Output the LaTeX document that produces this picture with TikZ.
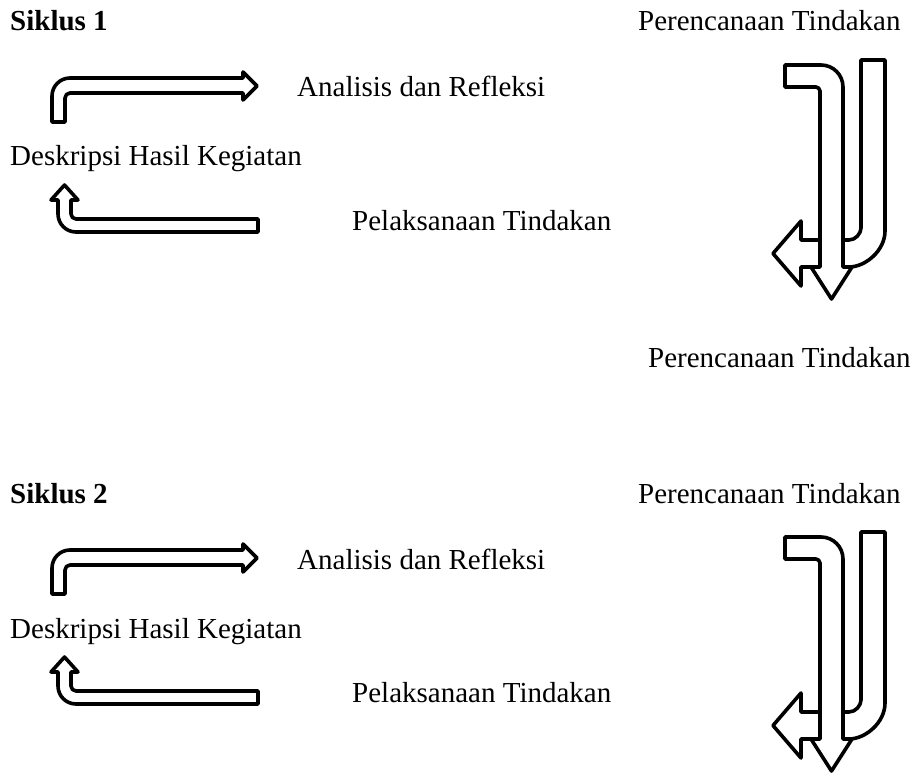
\documentclass[tikz,border=0pt]{standalone}
\usepackage{fontspec}
\setmainfont{Liberation Serif}
\begin{document}
\begin{tikzpicture}[x=1pt,y=-1pt,
  lbl/.style={inner sep=0pt,anchor=base west,font=\fontsize{29}{34}\selectfont},
  hdr/.style={lbl,font=\fontsize{29}{34}\selectfont\bfseries},
  blockarrow/.style={draw=black,fill=white,line width=3.6pt,line join=round}]
\useasboundingbox (0,0) rectangle (916,781);
\foreach \dy/\n in {0/1,472/2}{
\begin{scope}[yshift=-\dy pt]
  \node[hdr] (siklus\n) at (10,31) {Siklus \n};
  \node[lbl] (perA\n) at (638,31) {Perencanaan Tindakan};
  \node[lbl] (ana\n) at (297,97) {Analisis dan Refleksi};
  \node[lbl] (desk\n) at (10,166) {Deskripsi Hasil Kegiatan};
  \node[lbl] (pel\n) at (352,230) {Pelaksanaan Tindakan};
  % bent arrow up-right
  \draw[blockarrow] (52,122) -- (52,96) .. controls (52,86.06) and (60.06,78) .. (70,78)
    -- (243,78) -- (243,72) -- (257,86) -- (243,100) -- (243,93) -- (70,93)
    .. controls (67.24,93) and (65,95.24) .. (65,98) -- (65,122) -- cycle;
  % bent arrow up-left
  \draw[blockarrow] (64.5,185) -- (78,200) -- (71,200) -- (71,214)
    .. controls (71,216.76) and (73.24,219) .. (76,219) -- (258,219) -- (258,232) -- (76,232)
    .. controls (66.06,232) and (58,223.94) .. (58,214) -- (58,200) -- (51,200) -- cycle;
  % arrow turning left
  \draw[blockarrow] (861,60) -- (885,60) -- (885,231)
    .. controls (885,250.87) and (865.13,267) .. (849,267) -- (801,267) -- (801,286)
    -- (773,253.5) -- (801,221) -- (801,240) -- (849,240)
    .. controls (855.62,240) and (861,233.38) .. (861,228) -- cycle;
  % arrow turning down
  \draw[blockarrow] (785,65) -- (821,65) .. controls (833.14,65) and (843,74.86) .. (843,87)
    -- (843,267) -- (852,267) -- (831.5,299) -- (811,267) -- (820,267) -- (820,91)
    .. controls (820,88.79) and (817.79,87) .. (816,87) -- (785,87) -- cycle;
\end{scope}
}
\node[lbl] (perB1) at (648,367) {Perencanaan Tindakan};
\end{tikzpicture}
\end{document}
